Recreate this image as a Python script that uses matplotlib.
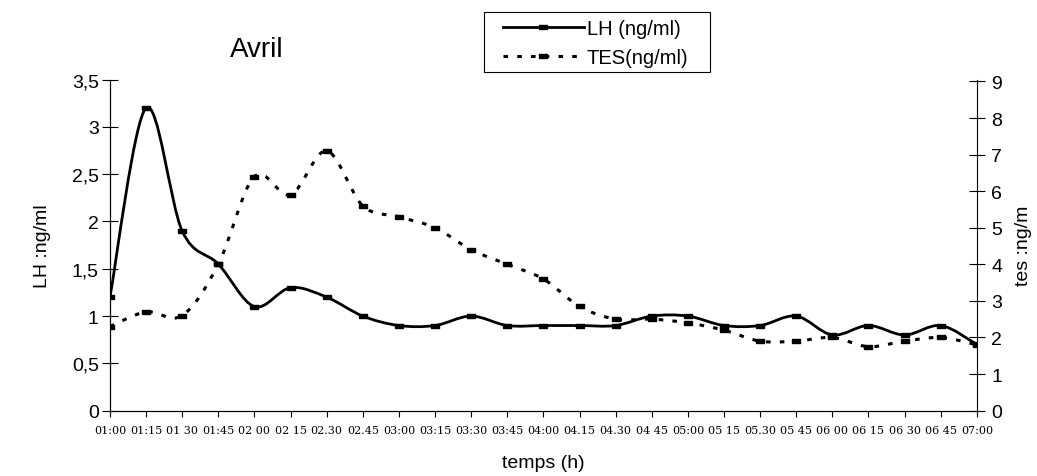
import numpy as np
import matplotlib
matplotlib.use("Agg")
import matplotlib.pyplot as plt
from matplotlib.path import Path
from matplotlib.patches import PathPatch, Rectangle
from matplotlib.lines import Line2D

plt.rcParams['font.family'] = ['Liberation Sans', 'DejaVu Sans']

# data
times = ["01:00", "01:15", "01 30", "01:45", "02 00", "02 15", "02.30", "02.45",
         "03:00", "03:15", "03:30", "03:45", "04:00", "04.15", "04.30", "04 45",
         "05:00", "05 15", "05.30", "05 45", "06 00", "06 15", "06 30", "06 45", "07:00"]
lh = [1.2, 3.2, 1.9, 1.55, 1.1, 1.3, 1.2, 1.0, 0.9, 0.9, 1.0, 0.9, 0.9,
      0.9, 0.9, 1.0, 1.0, 0.9, 0.9, 1.0, 0.8, 0.9, 0.8, 0.9, 0.7]
tes = [2.3, 2.7, 2.6, 4.0, 6.4, 5.9, 7.1, 5.6, 5.3, 5.0, 4.4, 4.0, 3.6,
       2.85, 2.5, 2.5, 2.4, 2.2, 1.9, 1.9, 2.0, 1.75, 1.9, 2.0, 1.8]
left_ticks = [0, 0.5, 1, 1.5, 2, 2.5, 3, 3.5]
left_labels = ["0", "0,5", "1", "1,5", "2", "2,5", "3", "3,5"]
right_ticks = [0, 1, 2, 3, 4, 5, 6, 7, 8, 9]


def smooth_path(xs, ys):
    # Excel-like smoothed line as cubic Bezier segments
    p = np.column_stack([xs, ys]).astype(float)
    n = len(p)
    verts = [p[0]]
    codes = [Path.MOVETO]
    for i in range(n - 1):
        p0 = p[i - 1] if i > 0 else p[i]
        p3 = p[i + 2] if i + 2 < n else p[i + 1]
        c1 = p[i] + (p[i + 1] - p0) / 6
        c2 = p[i + 1] - (p3 - p[i]) / 6
        verts += [c1, c2, p[i + 1]]
        codes += [Path.CURVE4] * 3
    return Path(verts, codes)


dash_marker = [(-1, -0.5), (1, -0.5), (1, 0.5), (-1, 0.5), (-1, -0.5)]
dots = (0, (1.5, 3))

fig = plt.figure(figsize=(10.37, 4.77), dpi=100)
ax = fig.add_axes([0.106, 0.137, 0.836, 0.694])
ax2 = ax.twinx()

x = np.arange(len(times))

ax.add_patch(PathPatch(smooth_path(x, lh), fill=False, edgecolor='black', lw=2))
ax.plot(x, lh, ls='none', marker=dash_marker, ms=6, color='black')

ax2.add_patch(PathPatch(smooth_path(x, tes), fill=False, edgecolor='black', lw=2.2,
                        linestyle=dots))
ax2.plot(x, tes, ls='none', marker=dash_marker, ms=6, color='black')

ax.set_xlim(0, len(times) - 1)
ax.set_ylim(0, 3.5)
ax2.set_ylim(0, 9.05)

ax.set_yticks(left_ticks)
ax.set_yticklabels(left_labels, fontsize=14)
ax2.set_yticks(right_ticks)
ax2.set_yticklabels([str(t) for t in right_ticks], fontsize=14)
ax.set_xticks(x)
ax.set_xticklabels(times, fontsize=8, family=['DejaVu Serif'])

for a in (ax, ax2):
    a.spines['top'].set_visible(False)
    for s in a.spines.values():
        s.set_linewidth(0.8)
ax.spines['right'].set_visible(False)
ax.tick_params(axis='y', direction='inout', length=12, width=0.8, pad=2)
ax2.tick_params(axis='y', direction='inout', length=11, width=0.8, pad=5)
ax.tick_params(axis='x', direction='out', length=4, width=0.8, pad=6)

ax.set_xlabel("temps (h)", fontsize=14, labelpad=14)
ax.set_ylabel("LH :ng/ml", fontsize=14, labelpad=15)
ax2.set_ylabel("tes :ng/m", fontsize=14, labelpad=9)

fig.text(257 / 1037, 1 - 57 / 477, "Avril", fontsize=20, ha='center', va='baseline')

# legend box drawn separately so its padding can match the scan
fig.add_artist(Rectangle((484 / 1037, 1 - 73 / 477), 226 / 1037, 60 / 477,
                         transform=fig.transFigure, facecolor='white',
                         edgecolor='black', lw=0.8, zorder=5))
handles = [
    Line2D([], [], color='black', lw=2, marker=dash_marker, ms=6, markevery=[1],
           label="LH (ng/ml)"),
    Line2D([], [], color='black', lw=2.2, ls=dots, marker=dash_marker, ms=6,
           markevery=[1], label="TES(ng/ml)"),
]
for h in handles:
    h.set_data([0, 0.5, 1], [0, 0, 0])
leg = fig.legend(handles=handles, loc='upper left', bbox_to_anchor=(503 / 1037, 1 - 20 / 477),
                 fontsize=14.5, handlelength=4.0, handletextpad=0.15, borderpad=0,
                 labelspacing=0.5, borderaxespad=0, frameon=False)
leg.set_zorder(6)

fig.savefig("out.png", dpi=100)
